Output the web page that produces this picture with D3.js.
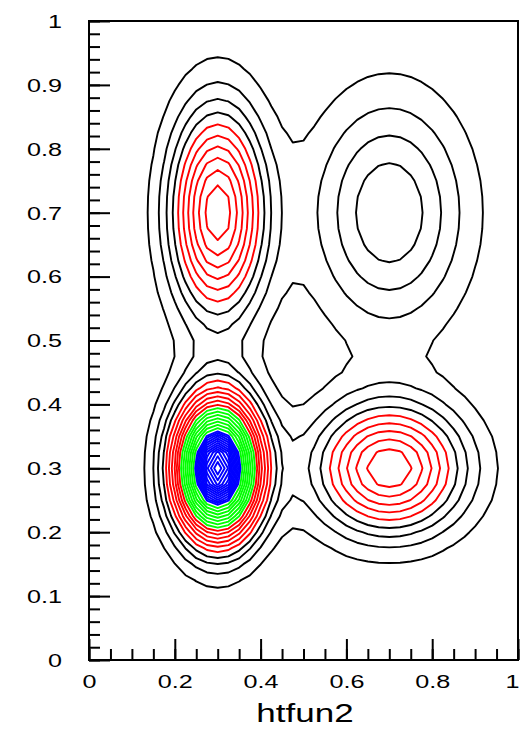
<!DOCTYPE html>
<html>
<head>
<meta charset="utf-8">
<script src="https://d3js.org/d3.v7.min.js"></script>
<style>
  body { margin: 0; background: #fff; }
  text { font-family: "Liberation Sans", Arial, sans-serif; fill: #000; }
  .ticklabel { font-size: 18px; }
  .axistitle { font-size: 25px; }
</style>
</head>
<body>
<script>
// htfun2: four bumps (centre, height, widths)
var peakX = [0.3, 0.3, 0.7, 0.7]
var peakY = [0.3, 0.7, 0.3, 0.7]
var peakHeight = [24.5, 10.8, 9.9, 4.9]
var peakSigmaX = [0.067, 0.074, 0.118, 0.122]
var peakSigmaY = [0.073, 0.111, 0.069, 0.122]

// contour levels and the colour each band of levels gets
var contourLevels = [1, 2, 3, 4, 5, 6, 7, 8, 9, 10, 11, 12, 13, 14, 15, 16, 17,
  18, 18.5, 19, 19.5, 20, 20.5, 21, 21.5, 22, 22.5, 23, 23.5, 24]
var levelBreaks = [4.5, 10.5, 17.5]
var levelColors = ["#000000", "#ff0000", "#00ff00", "#0000ff"]

// axes
var xTicks = [0, 0.2, 0.4, 0.6, 0.8, 1]
var xTickLabels = ["0", "0.2", "0.4", "0.6", "0.8", "1"]
var yTicks = [0, 0.1, 0.2, 0.3, 0.4, 0.5, 0.6, 0.7, 0.8, 0.9, 1]
var yTickLabels = ["0", "0.1", "0.2", "0.3", "0.4", "0.5", "0.6", "0.7", "0.8", "0.9", "1"]
var xTitle = "htfun2"
var gridSize = 40

var svg_w = 522
var svg_h = 730
var textStretch = 1.4

var svg = d3.select("body").append("svg")
  .attr("width", svg_w)
  .attr("height", svg_h)

var x = d3.scaleLinear().domain([0, 1]).range([89, 518])
var y = d3.scaleLinear().domain([0, 1]).range([660, 21])

// sample the function on the grid
var nPts = gridSize + 1
var values = new Array(nPts * nPts)
for (var j = 0; j < nPts; j++) {
  for (var i = 0; i < nPts; i++) {
    var px = i / gridSize, py = j / gridSize, v = 0
    for (var k = 0; k < peakX.length; k++) {
      var dx = (px - peakX[k]) / peakSigmaX[k]
      var dy = (py - peakY[k]) / peakSigmaY[k]
      v += peakHeight[k] * Math.exp(-0.5 * (dx * dx + dy * dy))
    }
    values[j * nPts + i] = v
  }
}

var contours = d3.contours()
  .size([nPts, nPts])
  .thresholds(contourLevels)(values)

var proj = d3.geoTransform({
  point: function(cx, cy) {
    this.stream.point(x((cx - 0.5) / gridSize), y((cy - 0.5) / gridSize))
  }
})
var path = d3.geoPath(proj)
var colorScale = d3.scaleThreshold().domain(levelBreaks).range(levelColors)

svg.append("clipPath").attr("id", "frameclip")
  .append("rect")
  .attr("x", x(0)).attr("y", y(1))
  .attr("width", x(1) - x(0)).attr("height", y(0) - y(1))

svg.append("g")
  .attr("clip-path", "url(#frameclip)")
  .selectAll(".level")
  .data(contours)
  .enter()
  .append("path")
  .classed("level", true)
  .attr("d", path)
  .attr("fill", "none")
  .attr("stroke", function(d) { return colorScale(d.value) })
  .attr("stroke-width", 1.9)
  .attr("stroke-linejoin", "round")

// ticks, pointing inward
var xMinor = d3.range(0, 1.0001, 0.05)
var yMinor = d3.range(0, 1.0001, 0.02)

var xMinorAxis = svg.append("g")
  .attr("transform", "translate(0," + y(0) + ")")
  .call(d3.axisBottom(x).tickValues(xMinor).tickSize(-11).tickFormat(""))
var xMajorAxis = svg.append("g")
  .attr("transform", "translate(0," + y(0) + ")")
  .call(d3.axisBottom(x).tickValues(xTicks).tickSize(-21)
    .tickFormat(function(d, i) { return xTickLabels[i] }))
var yMinorAxis = svg.append("g")
  .attr("transform", "translate(" + x(0) + ",0)")
  .call(d3.axisLeft(y).tickValues(yMinor).tickSize(-11).tickFormat(""))
var yMajorAxis = svg.append("g")
  .attr("transform", "translate(" + x(0) + ",0)")
  .call(d3.axisLeft(y).tickValues(yTicks).tickSize(-21)
    .tickFormat(function(d, i) { return yTickLabels[i] }))

svg.selectAll(".domain").remove()
svg.selectAll(".tick line").attr("stroke", "#000").attr("stroke-width", 2)

xMajorAxis.selectAll("text")
  .attr("class", "ticklabel")
  .attr("y", null).attr("dy", null)
  .attr("font-size", null).attr("font-family", null)
  .attr("transform", function(d) {
    // the last label sits on the window edge; pull it in so it stays whole
    var shift = d == 1 ? -6 : 0
    return "translate(" + shift + ",28) scale(" + textStretch + ",1)"
  })
  .attr("text-anchor", "middle")

yMajorAxis.selectAll("text")
  .attr("class", "ticklabel")
  .attr("x", null).attr("dy", "0.35em")
  .attr("font-size", null).attr("font-family", null)
  .attr("transform", "translate(-27,0) scale(" + textStretch + ",1)")
  .attr("text-anchor", "end")

// frame
svg.append("rect")
  .attr("x", x(0)).attr("y", y(1))
  .attr("width", x(1) - x(0)).attr("height", y(0) - y(1))
  .attr("fill", "none")
  .attr("stroke", "#000")
  .attr("stroke-width", 2)

svg.append("text")
  .classed("axistitle", true)
  .attr("text-anchor", "middle")
  .attr("transform", "translate(305,722) scale(" + textStretch + ",1)")
  .text(xTitle)
</script>
</body>
</html>
